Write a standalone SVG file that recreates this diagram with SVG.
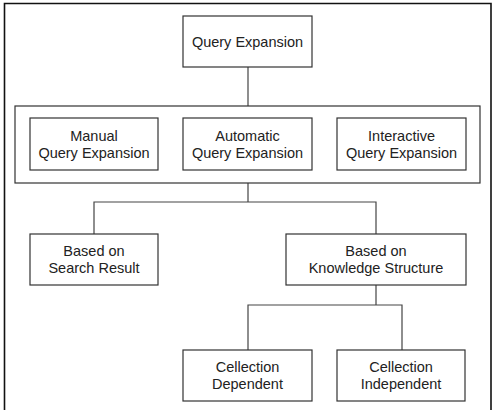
<svg xmlns="http://www.w3.org/2000/svg" width="495" height="410" viewBox="0 0 495 410">
<style>
.box{fill:#fff;stroke:#333;stroke-width:1.2}
.t{font-family:"Liberation Sans",Arial,sans-serif;font-size:14.5px;fill:#222;text-anchor:middle}
.c{fill:none;stroke:#444;stroke-width:1.2}
</style>
<rect width="495" height="410" fill="#fff"/>
<path d="M4.5 410 V3.5 H491 V410" fill="none" stroke="#111" stroke-width="1.6"/>
<g id="connectors">
<path class="c" d="M248 67 V106"/>
<path class="c" d="M248 183 V202 M94 234 V202 H376 V234"/>
<path class="c" d="M376 285 V305 M248 350 V305 H402 V350"/>
</g>
<g id="query-expansion"><rect class="box" x="183" y="16" width="129" height="51"/><text class="t" x="247.5" y="47">Query Expansion</text></g>
<g id="container"><rect class="box" x="15" y="106" width="465" height="77"/></g>
<g id="manual"><rect class="box" x="30" y="118" width="128" height="52"/><text class="t" x="94" y="141">Manual</text><text class="t" x="94" y="158">Query Expansion</text></g>
<g id="automatic"><rect class="box" x="183" y="118" width="129" height="52"/><text class="t" x="247.5" y="141">Automatic</text><text class="t" x="247.5" y="158">Query Expansion</text></g>
<g id="interactive"><rect class="box" x="337" y="118" width="129" height="52"/><text class="t" x="401.5" y="141">Interactive</text><text class="t" x="401.5" y="158">Query Expansion</text></g>
<g id="search-result"><rect class="box" x="30" y="234" width="128" height="51"/><text class="t" x="94" y="256">Based on</text><text class="t" x="94" y="273">Search Result</text></g>
<g id="knowledge"><rect class="box" x="286" y="234" width="180" height="51"/><text class="t" x="376" y="256">Based on</text><text class="t" x="376" y="273">Knowledge Structure</text></g>
<g id="dependent"><rect class="box" x="183" y="350" width="129" height="51"/><text class="t" x="247.5" y="372">Cellection</text><text class="t" x="247.5" y="389">Dependent</text></g>
<g id="independent"><rect class="box" x="337" y="350" width="128" height="51"/><text class="t" x="401" y="372">Cellection</text><text class="t" x="401" y="389">Independent</text></g>
</svg>
